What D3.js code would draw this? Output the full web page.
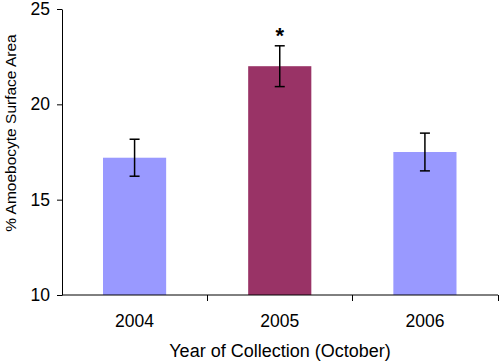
<!DOCTYPE html>
<html>
<head>
<meta charset="utf-8">
<script src="https://cdn.jsdelivr.net/npm/d3@7"></script>
<style>
  body { margin: 0; background: #fff; }
  svg { display: block; font-family: "Liberation Sans", Arial, sans-serif; }
</style>
</head>
<body>
<script>
var years = ["2004", "2005", "2006"]
var means = [17.2, 22.0, 17.5]
var errs = [0.97, 1.07, 0.99]
var signif = [false, true, false]
var yTicks = [10, 15, 20, 25]
var colors = ["#9999ff", "#993366", "#9999ff"]

var width = 500, height = 364
var margin = {top: 9, right: 2, bottom: 69, left: 62}

var svg = d3.select("body").append("svg")
    .attr("width", width)
    .attr("height", height)

var x = d3.scaleBand()
    .domain(years)
    .range([margin.left, width - margin.right - 0.5])
    .paddingInner(0.565)
    .paddingOuter(0.2825)

var y = d3.scaleLinear()
    .domain([10, 25])
    .range([height - margin.bottom, margin.top])

// bars
svg.selectAll(".bar")
    .data(years)
  .enter().append("rect")
    .attr("class", "bar")
    .attr("x", function(d) { return x(d); })
    .attr("width", x.bandwidth())
    .attr("y", function(d, i) { return y(means[i]); })
    .attr("height", function(d, i) { return y(10) - y(means[i]); })
    .attr("fill", function(d, i) { return colors[i]; })

// error bars
var eb = svg.selectAll(".err")
    .data(years)
  .enter().append("g")
    .attr("class", "err")
    .attr("stroke", "#000")
    .attr("stroke-width", 1.5)

eb.append("line")
    .attr("x1", function(d) { return x(d) + x.bandwidth() / 2; })
    .attr("x2", function(d) { return x(d) + x.bandwidth() / 2; })
    .attr("y1", function(d, i) { return y(means[i] - errs[i]); })
    .attr("y2", function(d, i) { return y(means[i] + errs[i]); })

eb.append("line")
    .attr("x1", function(d) { return x(d) + x.bandwidth() / 2 - 5; })
    .attr("x2", function(d) { return x(d) + x.bandwidth() / 2 + 5; })
    .attr("y1", function(d, i) { return y(means[i] + errs[i]); })
    .attr("y2", function(d, i) { return y(means[i] + errs[i]); })

eb.append("line")
    .attr("x1", function(d) { return x(d) + x.bandwidth() / 2 - 5; })
    .attr("x2", function(d) { return x(d) + x.bandwidth() / 2 + 5; })
    .attr("y1", function(d, i) { return y(means[i] - errs[i]); })
    .attr("y2", function(d, i) { return y(means[i] - errs[i]); })

// significance star
svg.selectAll(".star")
    .data(years.filter(function(d, i) { return signif[i]; }))
  .enter().append("text")
    .attr("class", "star")
    .attr("x", function(d) { return x(d) + x.bandwidth() / 2; })
    .attr("y", function(d) { var i = years.indexOf(d); return y(means[i] + errs[i]) - 3; })
    .attr("text-anchor", "middle")
    .style("font-size", "22px")
    .style("font-weight", "bold")
    .text("*")

// y axis
var yAxis = svg.append("g")
    .attr("transform", "translate(" + margin.left + ",0)")
    .call(d3.axisLeft(y).tickValues(yTicks).tickSize(5).tickPadding(7).tickSizeOuter(0))
yAxis.selectAll("text").style("font-size", "17.5px").attr("fill", "#000")
yAxis.selectAll("line, path").attr("stroke", "#000")

// x axis, ticks sit between the categories
var xEdges = years.map(function(d) { return x(d) - x.step() * x.paddingInner() / 2 + x.step(); })
var xAxisG = svg.append("g")
    .attr("transform", "translate(0," + y(10) + ")")
xAxisG.append("line")
    .attr("x1", margin.left).attr("x2", width - margin.right)
    .attr("stroke", "#000")
xAxisG.selectAll(".xt")
    .data(xEdges)
  .enter().append("line")
    .attr("x1", function(d) { return Math.round(d) + 0.5; })
    .attr("x2", function(d) { return Math.round(d) + 0.5; })
    .attr("y1", 0).attr("y2", 6)
    .attr("stroke", "#000")
xAxisG.selectAll(".xl")
    .data(years)
  .enter().append("text")
    .attr("x", function(d) { return x(d) + x.bandwidth() / 2; })
    .attr("y", 32)
    .attr("text-anchor", "middle")
    .style("font-size", "17.5px")
    .text(function(d) { return d; })

// axis titles
svg.append("text")
    .attr("x", 280)
    .attr("y", 357)
    .attr("text-anchor", "middle")
    .style("font-size", "18px")
    .text("Year of Collection (October)")

svg.append("text")
    .attr("transform", "translate(15.5," + 133 + ") rotate(-90)")
    .attr("text-anchor", "middle")
    .style("font-size", "15.5px")
    .text("% Amoebocyte Surface Area")
</script>
</body>
</html>
